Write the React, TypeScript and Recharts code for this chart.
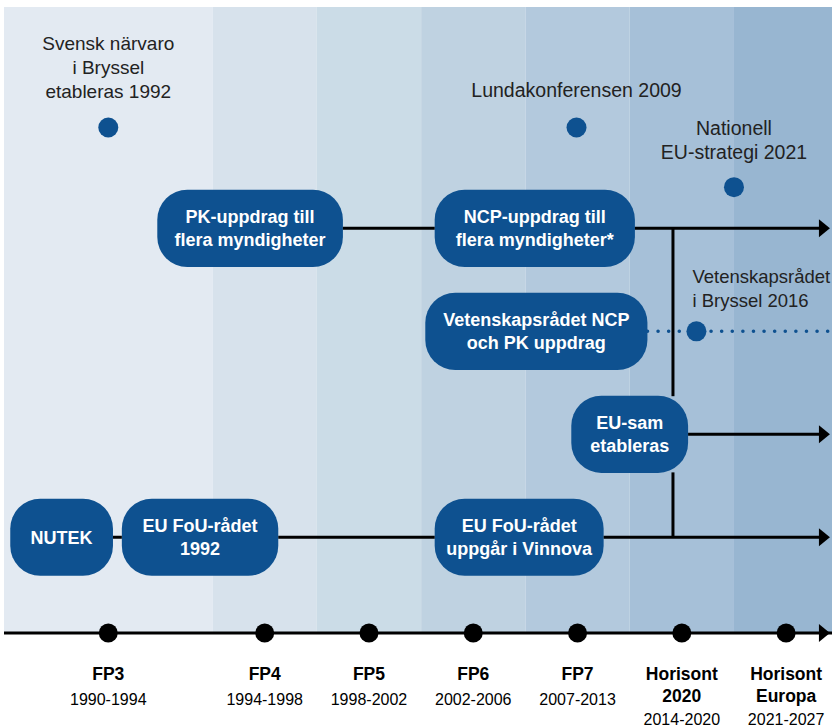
import React from 'react';
import {
  ComposedChart,
  XAxis,
  YAxis,
  Scatter,
  ReferenceArea,
  ReferenceLine,
  ReferenceDot,
} from 'recharts';

// ---------- DATA ----------
// x unit = one framework-programme slot, y unit = one swim lane above the axis
const bandStarts = [0, 2, 3, 4, 5, 6, 7];
const bandEnds = [2, 3, 4, 5, 6, 7, 7.94];

const periodCenters = [1, 2.5, 3.5, 4.5, 5.5, 6.5, 7.5];
const periodNames = [
  ['FP3'],
  ['FP4'],
  ['FP5'],
  ['FP6'],
  ['FP7'],
  ['Horisont', '2020'],
  ['Horisont', 'Europa'],
];
const periodYears = [
  '1990-1994',
  '1994-1998',
  '1998-2002',
  '2002-2006',
  '2007-2013',
  '2014-2020',
  '2021-2027',
];

const boxLabels = [
  ['NUTEK'],
  ['EU FoU-rådet', '1992'],
  ['EU FoU-rådet', 'uppgår i Vinnova'],
  ['PK-uppdrag till', 'flera myndigheter'],
  ['NCP-uppdrag till', 'flera myndigheter*'],
  ['Vetenskapsrådet NCP', 'och PK uppdrag'],
  ['EU-sam', 'etableras'],
];
const boxStart = [0.06, 1.13, 4.13, 1.47, 4.13, 4.04, 5.44];
const boxEnd = [1.045, 2.63, 5.75, 3.25, 6.05, 6.17, 6.56];
const boxLane = [0.93, 0.93, 0.93, 3.93, 3.93, 2.93, 1.93];

const linkFrom = [1.045, 2.63, 5.75, 3.25, 6.05, 6.56];
const linkTo = [1.13, 4.13, 7.85, 4.13, 7.85, 7.85];
const linkLane = [0.93, 0.93, 0.93, 3.93, 3.93, 1.93];

const verticalX = 6.415;
const verticalFrom = [0.93, 2.3];
const verticalTo = [1.56, 3.93];

const dottedFrom = 6.17;
const dottedTo = 7.94;
const dottedLane = 2.93;

const arrowX = 7.92;
const arrowLanes = [0, 0.93, 1.93, 3.93];

const eventX = [1.0, 5.49, 7.0, 6.64];
const eventY = [4.91, 4.91, 4.33, 2.93];
const eventLabels = [
  ['Svensk närvaro', 'i Bryssel', 'etableras 1992'],
  ['Lundakonferensen 2009'],
  ['Nationell', 'EU-strategi 2021'],
  ['Vetenskapsrådet', 'i Bryssel 2016'],
];

// ---------- STYLE ----------
const W = 832;
const H = 728;
const FONT = '"Liberation Sans", Arial, sans-serif';
const bandColors = ['#e3eaf2', '#d7e2ec', '#cbdce7', '#bfd2e1', '#b3c9dd', '#a6c0d8', '#98b6d1'];
const BOX = '#0e5190';
const TEXT = '#222222';
const eventAnchor = ['middle', 'middle', 'middle', 'start'];
const eventDx = [0, 0, 0, -4];
const eventFirstBaseline = [-77, -30, -52, -48];
const eventLineGap = 24;
const eventFontSize = [19, 19.5, 19.5, 18.5];

const events = eventX.map((x, i) => ({ x, y: eventY[i], i }));

const boxShape = (lines: string[]) => (p: any) => {
  const { x, y, width, height } = p;
  const cx = x + width / 2;
  const cy = y + height / 2;
  const gap = 23;
  const first = cy + 6.5 - ((lines.length - 1) * gap) / 2;
  return (
    <g>
      <rect x={x} y={y} width={width} height={height} rx={30} ry={30} fill={BOX} />
      {lines.map((l, j) => (
        <text
          key={j}
          x={cx}
          y={first + j * gap}
          textAnchor="middle"
          fill="#ffffff"
          fontFamily={FONT}
          fontWeight="bold"
          fontSize={18}
        >
          {l}
        </text>
      ))}
    </g>
  );
};

const eventShape = (p: any) => {
  const { cx, cy, payload } = p;
  const i = payload.i;
  return (
    <g>
      <circle cx={cx} cy={cy} r={10} fill={BOX} />
      {eventLabels[i].map((l, j) => (
        <text
          key={j}
          x={cx + eventDx[i]}
          y={cy + eventFirstBaseline[i] + j * eventLineGap}
          textAnchor={eventAnchor[i] as any}
          fill={TEXT}
          fontFamily={FONT}
          fontSize={eventFontSize[i]}
        >
          {l}
        </text>
      ))}
    </g>
  );
};

const renderTick = (p: any) => {
  const { x, y, payload } = p;
  const i = periodCenters.indexOf(payload.value);
  if (i < 0) return <g />;
  const names = periodNames[i];
  const yearsY = names.length > 1 ? 92 : 72;
  return (
    <g>
      <circle cx={x} cy={y} r={9.5} fill="#000" />
      {names.map((n, j) => (
        <text
          key={j}
          x={x}
          y={y + 47 + j * 22}
          textAnchor="middle"
          fill="#000"
          fontFamily={FONT}
          fontWeight="bold"
          fontSize={17.5}
        >
          {n}
        </text>
      ))}
      <text x={x} y={y + yearsY} textAnchor="middle" fill="#000" fontFamily={FONT} fontSize={16}>
        {periodYears[i]}
      </text>
    </g>
  );
};

const arrowShape = (p: any) => {
  const { cx, cy } = p;
  return <polygon points={`${cx},${cy} ${cx - 11},${cy - 9} ${cx - 11},${cy + 9}`} fill="#000" />;
};

export default function App() {
  return (
    <div style={{ position: 'fixed', left: 0, top: 0, width: W, height: H, background: '#fff' }}>
      <ComposedChart width={W} height={H} margin={{ top: 7, right: 0, bottom: 0, left: 4 }}>
        <XAxis
          type="number"
          dataKey="x"
          domain={[0, 7.94]}
          allowDataOverflow
          ticks={periodCenters}
          interval={0}
          height={95}
          tickSize={0}
          tickMargin={0}
          tickLine={false}
          axisLine={{ stroke: '#000', strokeWidth: 3 }}
          tick={renderTick}
        />
        <YAxis type="number" domain={[0, 6.08]} allowDataOverflow hide width={0} />
        {bandStarts.map((s, i) => (
          <ReferenceArea
            key={'band' + i}
            x1={s}
            x2={bandEnds[i]}
            y1={0}
            y2={6.08}
            fill={bandColors[i]}
            fillOpacity={1}
            stroke="none"
          />
        ))}
        {linkFrom.map((f, i) => (
          <ReferenceLine
            key={'link' + i}
            segment={[
              { x: f, y: linkLane[i] },
              { x: linkTo[i], y: linkLane[i] },
            ]}
            stroke="#000"
            strokeWidth={3}
          />
        ))}
        {verticalFrom.map((f, i) => (
          <ReferenceLine
            key={'vert' + i}
            segment={[
              { x: verticalX, y: f },
              { x: verticalX, y: verticalTo[i] },
            ]}
            stroke="#000"
            strokeWidth={3}
          />
        ))}
        <ReferenceLine
          segment={[
            { x: dottedFrom, y: dottedLane },
            { x: dottedTo, y: dottedLane },
          ]}
          stroke={BOX}
          strokeWidth={3.5}
          strokeDasharray="0.1 10.5"
          strokeLinecap="round"
        />
        {boxLabels.map((lines, i) => (
          <ReferenceArea
            key={'box' + i}
            x1={boxStart[i]}
            x2={boxEnd[i]}
            y1={boxLane[i] - 0.375}
            y2={boxLane[i] + 0.375}
            shape={boxShape(lines)}
          />
        ))}
        {arrowLanes.map((l, i) => (
          <ReferenceDot key={'arrow' + i} x={arrowX} y={l} r={1} shape={arrowShape} />
        ))}
        <Scatter data={events} dataKey="y" isAnimationActive={false} shape={eventShape} />
      </ComposedChart>
    </div>
  );
}
